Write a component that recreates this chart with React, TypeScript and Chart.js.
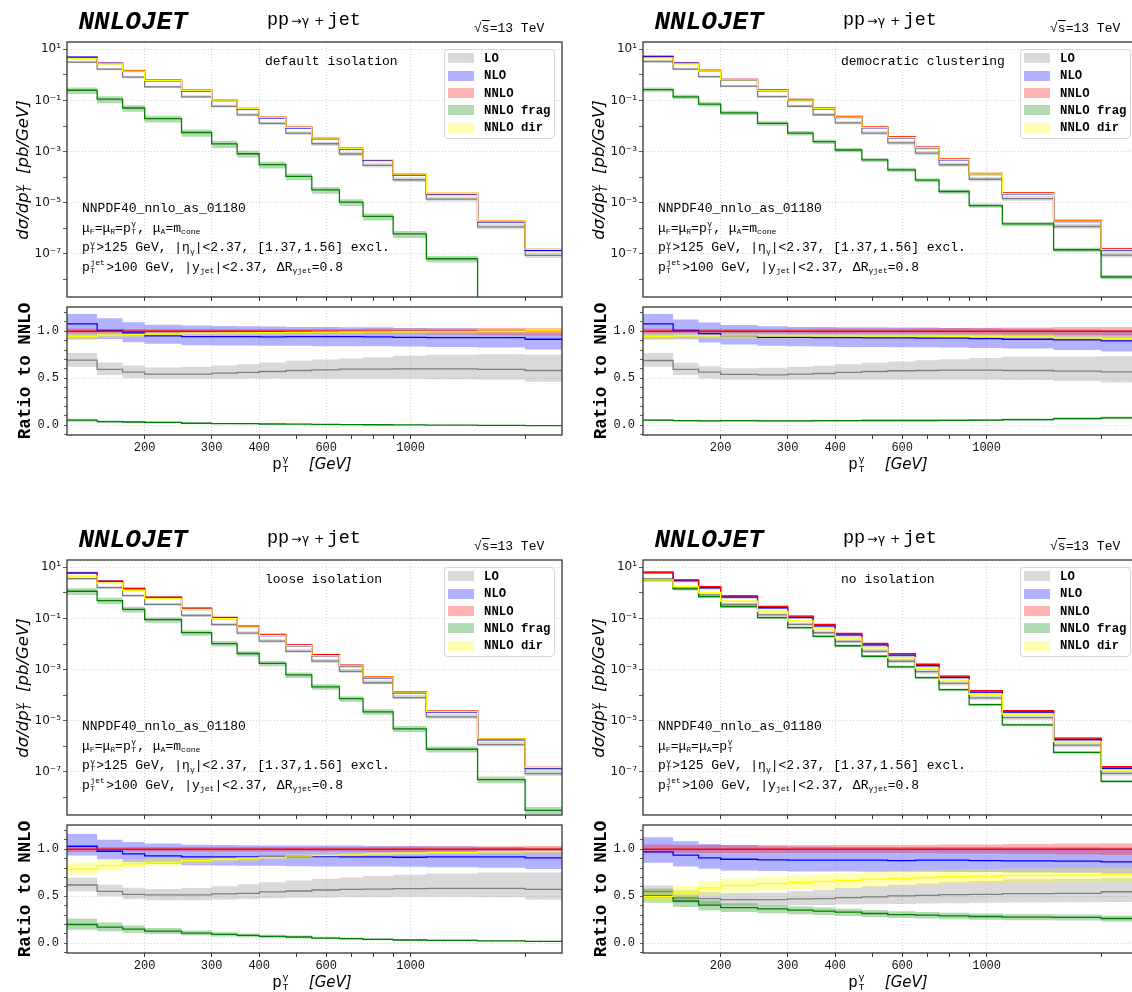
import React, { useEffect, useRef } from 'react';
import { Chart, registerables } from 'chart.js';
Chart.register(...registerables);

// ---------------- data ----------------
const BIN_EDGES = [125, 150, 175, 200, 250, 300, 350, 400, 470, 550, 650, 750, 900, 1100, 1500, 2000, 2500];
const X_TICKS = [200, 300, 400, 500, 600, 700, 800, 900, 1000, 2000];
const X_TICK_LABELS = [200, 300, 400, 600, 1000];
const Y_MAIN_TICKS = [1e-8, 1e-7, 1e-6, 1e-5, 1e-4, 1e-3, 1e-2, 1e-1, 1, 10];
const Y_MAIN_LABEL_EXP = [-7, -5, -3, -1, 1];
const Y_RATIO_TICKS = [-0.1, 0.0, 0.1, 0.2, 0.3, 0.4, 0.5, 0.6, 0.7, 0.8, 0.9, 1.0, 1.1, 1.2];
const Y_RATIO_LABELS = [0.0, 0.5, 1.0];
const NNLO_REF = [1, 1, 1, 1, 1, 1, 1, 1, 1, 1, 1, 1, 1, 1, 1, 1];

// default isolation (top-left)
const TL_NNLO = [4.56, 2.8, 1.45, 0.625, 0.254, 0.106, 0.0485, 0.0221, 0.00897, 0.00343, 0.00135, 4.85e-4, 1.32e-4, 2.3e-5, 1.9e-6, 1.5e-7];
const TL_NNLO_UP = [1.03, 1.025, 1.025, 1.025, 1.025, 1.025, 1.025, 1.025, 1.025, 1.025, 1.025, 1.03, 1.03, 1.03, 1.035, 1.035];
const TL_NNLO_DN = [0.97, 0.975, 0.975, 0.975, 0.975, 0.975, 0.975, 0.975, 0.975, 0.975, 0.975, 0.97, 0.97, 0.965, 0.96, 0.955];
const TL_LO = [0.693, 0.594, 0.565, 0.544, 0.544, 0.555, 0.562, 0.572, 0.583, 0.59, 0.597, 0.597, 0.6, 0.6, 0.594, 0.583];
const TL_LO_UP = [0.77, 0.668, 0.636, 0.615, 0.622, 0.636, 0.65, 0.668, 0.686, 0.7, 0.71, 0.724, 0.739, 0.749, 0.756, 0.749];
const TL_LO_DN = [0.622, 0.534, 0.502, 0.495, 0.495, 0.495, 0.498, 0.498, 0.495, 0.495, 0.495, 0.495, 0.495, 0.491, 0.488, 0.463];
const TL_NLO = [1.078, 1.01, 0.982, 0.951, 0.943, 0.943, 0.943, 0.94, 0.943, 0.943, 0.943, 0.94, 0.936, 0.933, 0.933, 0.915];
const TL_NLO_UP = [1.184, 1.138, 1.095, 1.07, 1.06, 1.057, 1.053, 1.05, 1.046, 1.046, 1.042, 1.042, 1.035, 1.032, 1.025, 1.01];
const TL_NLO_DN = [0.912, 0.919, 0.883, 0.866, 0.852, 0.848, 0.848, 0.845, 0.845, 0.841, 0.841, 0.841, 0.837, 0.834, 0.827, 0.806];
const TL_FRAG = [0.055, 0.04, 0.035, 0.031, 0.022, 0.019, 0.017, 0.014, 0.012, 0.0093, 0.0078, 0.006, 0.0046, 0.0028, 0.0, -0.003];
const TL_FRAG_UP = [0.071, 0.052, 0.045, 0.04, 0.029, 0.025, 0.022, 0.018, 0.0156, 0.012, 0.0101, 0.0078, 0.006, 0.0036, 0.0, -0.001];
const TL_FRAG_DN = [0.039, 0.028, 0.025, 0.022, 0.015, 0.013, 0.012, 0.0098, 0.0084, 0.0065, 0.0055, 0.0042, 0.0032, 0.002, -0.002, -0.005];
const TL_DIR = [0.945, 0.96, 0.965, 0.969, 0.978, 0.981, 0.983, 0.986, 0.988, 0.991, 0.992, 0.994, 0.995, 0.997, 1.0, 1.003];
const TL_DIR_UP = [0.985, 0.99, 0.993, 0.995, 1.0, 1.003, 1.005, 1.008, 1.01, 1.013, 1.014, 1.017, 1.018, 1.02, 1.025, 1.03];
const TL_DIR_DN = [0.905, 0.93, 0.94, 0.945, 0.955, 0.958, 0.96, 0.963, 0.965, 0.968, 0.969, 0.97, 0.971, 0.972, 0.973, 0.974];

// democratic clustering (top-right)
const TR_NNLO = [4.85, 2.83, 1.5, 0.667, 0.262, 0.109, 0.05, 0.0236, 0.0093, 0.0038, 0.00149, 5.2e-4, 1.41e-4, 2.47e-5, 2.04e-6, 1.58e-7];
const TR_NNLO_UP = [1.03, 1.025, 1.025, 1.025, 1.025, 1.028, 1.03, 1.03, 1.03, 1.03, 1.032, 1.035, 1.038, 1.04, 1.045, 1.045];
const TR_NNLO_DN = [0.97, 0.975, 0.975, 0.975, 0.975, 0.972, 0.97, 0.97, 0.97, 0.97, 0.968, 0.965, 0.962, 0.96, 0.955, 0.955];
const TR_LO = [0.689, 0.594, 0.565, 0.541, 0.537, 0.544, 0.551, 0.562, 0.572, 0.58, 0.583, 0.587, 0.587, 0.583, 0.576, 0.569];
const TR_LO_UP = [0.77, 0.664, 0.629, 0.608, 0.611, 0.622, 0.633, 0.65, 0.664, 0.678, 0.692, 0.703, 0.717, 0.728, 0.731, 0.735];
const TR_LO_DN = [0.622, 0.534, 0.498, 0.488, 0.488, 0.488, 0.488, 0.488, 0.488, 0.488, 0.488, 0.488, 0.486, 0.481, 0.47, 0.456];
const TR_NLO = [1.078, 1.01, 0.975, 0.95, 0.936, 0.936, 0.933, 0.933, 0.929, 0.929, 0.926, 0.926, 0.922, 0.915, 0.908, 0.897];
const TR_NLO_UP = [1.184, 1.124, 1.092, 1.067, 1.053, 1.046, 1.046, 1.042, 1.042, 1.039, 1.039, 1.035, 1.032, 1.028, 1.018, 1.01];
const TR_NLO_DN = [0.912, 0.915, 0.88, 0.859, 0.845, 0.841, 0.838, 0.834, 0.834, 0.83, 0.83, 0.827, 0.823, 0.816, 0.8, 0.784];
const TR_FRAG = [0.055, 0.049, 0.048, 0.049, 0.048, 0.048, 0.049, 0.049, 0.051, 0.051, 0.051, 0.053, 0.055, 0.06, 0.071, 0.079];
const TR_FRAG_UP = [0.066, 0.059, 0.058, 0.059, 0.058, 0.058, 0.059, 0.059, 0.061, 0.061, 0.061, 0.064, 0.066, 0.072, 0.085, 0.095];
const TR_FRAG_DN = [0.045, 0.04, 0.039, 0.04, 0.039, 0.039, 0.04, 0.04, 0.042, 0.042, 0.042, 0.043, 0.045, 0.049, 0.058, 0.065];
const TR_DIR = [0.945, 0.951, 0.952, 0.951, 0.952, 0.952, 0.951, 0.951, 0.949, 0.949, 0.949, 0.947, 0.945, 0.94, 0.929, 0.921];
const TR_DIR_UP = [0.985, 0.982, 0.98, 0.978, 0.978, 0.978, 0.977, 0.977, 0.976, 0.976, 0.976, 0.975, 0.974, 0.97, 0.962, 0.956];
const TR_DIR_DN = [0.905, 0.92, 0.924, 0.924, 0.926, 0.926, 0.925, 0.925, 0.922, 0.922, 0.921, 0.919, 0.916, 0.91, 0.896, 0.886];

// loose isolation (bottom-left)
const BL_NNLO = [5.8, 2.9, 1.5, 0.687, 0.254, 0.11, 0.05, 0.0236, 0.0093, 0.0038, 0.00149, 5.3e-4, 1.38e-4, 2.4e-5, 2.0e-6, 1.5e-7];
const BL_NNLO_UP = [1.03, 1.025, 1.025, 1.025, 1.025, 1.025, 1.025, 1.025, 1.025, 1.025, 1.025, 1.028, 1.03, 1.03, 1.032, 1.035];
const BL_NNLO_DN = [0.97, 0.975, 0.975, 0.975, 0.975, 0.975, 0.975, 0.975, 0.975, 0.975, 0.975, 0.972, 0.97, 0.97, 0.968, 0.965];
const BL_LO = [0.62, 0.553, 0.521, 0.514, 0.514, 0.525, 0.532, 0.546, 0.556, 0.567, 0.574, 0.577, 0.581, 0.585, 0.585, 0.574];
const BL_LO_UP = [0.697, 0.623, 0.592, 0.577, 0.588, 0.606, 0.627, 0.648, 0.669, 0.687, 0.701, 0.715, 0.729, 0.743, 0.754, 0.754];
const BL_LO_DN = [0.553, 0.5, 0.472, 0.458, 0.458, 0.465, 0.472, 0.479, 0.486, 0.486, 0.493, 0.493, 0.496, 0.496, 0.489, 0.465];
const BL_NLO = [1.032, 0.979, 0.951, 0.93, 0.919, 0.919, 0.919, 0.923, 0.923, 0.923, 0.919, 0.919, 0.915, 0.919, 0.919, 0.908];
const BL_NLO_UP = [1.162, 1.102, 1.077, 1.06, 1.049, 1.046, 1.042, 1.039, 1.039, 1.039, 1.039, 1.035, 1.035, 1.032, 1.025, 1.018];
const BL_NLO_DN = [0.933, 0.894, 0.863, 0.845, 0.831, 0.827, 0.824, 0.824, 0.82, 0.817, 0.817, 0.817, 0.813, 0.81, 0.803, 0.789];
const BL_FRAG = [0.2, 0.173, 0.151, 0.13, 0.109, 0.095, 0.085, 0.074, 0.067, 0.056, 0.049, 0.042, 0.035, 0.032, 0.025, 0.021];
const BL_FRAG_UP = [0.26, 0.222, 0.19, 0.163, 0.136, 0.118, 0.105, 0.092, 0.083, 0.07, 0.061, 0.053, 0.045, 0.041, 0.033, 0.028];
const BL_FRAG_DN = [0.143, 0.128, 0.113, 0.098, 0.083, 0.073, 0.065, 0.057, 0.051, 0.043, 0.037, 0.032, 0.026, 0.024, 0.018, 0.015];
const BL_DIR = [0.789, 0.827, 0.845, 0.863, 0.88, 0.894, 0.905, 0.915, 0.926, 0.933, 0.94, 0.951, 0.958, 0.965, 0.972, 0.975];
const BL_DIR_UP = [0.86, 0.885, 0.895, 0.905, 0.915, 0.925, 0.932, 0.94, 0.948, 0.953, 0.958, 0.967, 0.972, 0.978, 0.985, 0.99];
const BL_DIR_DN = [0.73, 0.775, 0.8, 0.822, 0.845, 0.862, 0.877, 0.89, 0.903, 0.912, 0.92, 0.932, 0.942, 0.95, 0.958, 0.96];

// no isolation (bottom-right)
const BR_NNLO = [6.4, 3.2, 1.75, 0.77, 0.295, 0.124, 0.058, 0.0258, 0.0105, 0.0042, 0.00162, 5.6e-4, 1.5e-4, 2.5e-5, 2.1e-6, 1.6e-7];
const BR_NNLO_UP = [1.05, 1.045, 1.045, 1.045, 1.045, 1.045, 1.045, 1.045, 1.045, 1.045, 1.048, 1.05, 1.05, 1.055, 1.06, 1.065];
const BR_NNLO_DN = [0.955, 0.96, 0.96, 0.96, 0.96, 0.96, 0.96, 0.96, 0.96, 0.96, 0.958, 0.955, 0.955, 0.95, 0.945, 0.94];
const BR_LO = [0.55, 0.482, 0.475, 0.465, 0.465, 0.472, 0.475, 0.486, 0.493, 0.504, 0.51, 0.518, 0.521, 0.528, 0.532, 0.548];
const BR_LO_UP = [0.616, 0.563, 0.546, 0.535, 0.538, 0.553, 0.57, 0.588, 0.606, 0.62, 0.637, 0.651, 0.662, 0.68, 0.687, 0.694];
const BR_LO_DN = [0.486, 0.43, 0.412, 0.401, 0.401, 0.405, 0.408, 0.412, 0.415, 0.419, 0.423, 0.426, 0.43, 0.433, 0.437, 0.44];
const BR_NLO = [0.972, 0.937, 0.908, 0.894, 0.887, 0.884, 0.884, 0.884, 0.884, 0.88, 0.884, 0.884, 0.88, 0.877, 0.873, 0.866];
const BR_NLO_UP = [1.127, 1.085, 1.056, 1.042, 1.032, 1.028, 1.028, 1.025, 1.025, 1.025, 1.025, 1.025, 1.025, 1.021, 1.021, 1.018];
const BR_NLO_DN = [0.856, 0.817, 0.792, 0.775, 0.768, 0.764, 0.764, 0.764, 0.761, 0.761, 0.761, 0.757, 0.757, 0.754, 0.75, 0.739];
const BR_FRAG = [0.507, 0.45, 0.405, 0.38, 0.366, 0.352, 0.342, 0.331, 0.317, 0.306, 0.3, 0.292, 0.285, 0.278, 0.275, 0.264];
const BR_FRAG_UP = [0.58, 0.51, 0.455, 0.425, 0.408, 0.392, 0.38, 0.368, 0.353, 0.341, 0.334, 0.325, 0.318, 0.31, 0.307, 0.295];
const BR_FRAG_DN = [0.43, 0.385, 0.35, 0.332, 0.32, 0.308, 0.3, 0.29, 0.278, 0.268, 0.263, 0.256, 0.25, 0.245, 0.242, 0.233];
const BR_DIR = [0.5, 0.545, 0.59, 0.615, 0.634, 0.648, 0.658, 0.669, 0.683, 0.694, 0.7, 0.708, 0.715, 0.722, 0.725, 0.736];
const BR_DIR_UP = [0.56, 0.61, 0.66, 0.69, 0.71, 0.725, 0.737, 0.75, 0.762, 0.772, 0.778, 0.785, 0.79, 0.795, 0.8, 0.805];
const BR_DIR_DN = [0.44, 0.48, 0.52, 0.54, 0.56, 0.572, 0.58, 0.59, 0.603, 0.615, 0.622, 0.63, 0.638, 0.645, 0.65, 0.66];

// ---------------- styles ----------------
const MONO = '"Liberation Mono", "DejaVu Sans Mono", monospace';
const SANS = '"DejaVu Sans", sans-serif';
const GRID = 'rgba(0,0,0,0.22)';
const SERIES_STYLE = [
  { name: 'LO', line: '#808080', fill: 'rgba(128,128,128,0.3)' },
  { name: 'NLO', line: '#0000ff', fill: 'rgba(0,0,255,0.3)' },
  { name: 'NNLO', line: '#ff0000', fill: 'rgba(255,0,0,0.3)' },
  { name: 'NNLO frag', line: '#008000', fill: 'rgba(0,128,0,0.3)' },
  { name: 'NNLO dir', line: '#ffff00', fill: 'rgba(255,255,0,0.3)' },
];

type Band = { c: number[]; up: number[]; dn: number[] };
type PanelDef = { col: number; row: number; label: string; noIso: boolean; nnlo: number[]; series: Band[] };

const PANELS: PanelDef[] = [
  {
    col: 0, row: 0, label: 'default isolation', noIso: false, nnlo: TL_NNLO,
    series: [
      { c: TL_LO, up: TL_LO_UP, dn: TL_LO_DN },
      { c: TL_NLO, up: TL_NLO_UP, dn: TL_NLO_DN },
      { c: NNLO_REF, up: TL_NNLO_UP, dn: TL_NNLO_DN },
      { c: TL_FRAG, up: TL_FRAG_UP, dn: TL_FRAG_DN },
      { c: TL_DIR, up: TL_DIR_UP, dn: TL_DIR_DN },
    ],
  },
  {
    col: 1, row: 0, label: 'democratic clustering', noIso: false, nnlo: TR_NNLO,
    series: [
      { c: TR_LO, up: TR_LO_UP, dn: TR_LO_DN },
      { c: TR_NLO, up: TR_NLO_UP, dn: TR_NLO_DN },
      { c: NNLO_REF, up: TR_NNLO_UP, dn: TR_NNLO_DN },
      { c: TR_FRAG, up: TR_FRAG_UP, dn: TR_FRAG_DN },
      { c: TR_DIR, up: TR_DIR_UP, dn: TR_DIR_DN },
    ],
  },
  {
    col: 0, row: 1, label: 'loose isolation', noIso: false, nnlo: BL_NNLO,
    series: [
      { c: BL_LO, up: BL_LO_UP, dn: BL_LO_DN },
      { c: BL_NLO, up: BL_NLO_UP, dn: BL_NLO_DN },
      { c: NNLO_REF, up: BL_NNLO_UP, dn: BL_NNLO_DN },
      { c: BL_FRAG, up: BL_FRAG_UP, dn: BL_FRAG_DN },
      { c: BL_DIR, up: BL_DIR_UP, dn: BL_DIR_DN },
    ],
  },
  {
    col: 1, row: 1, label: 'no isolation', noIso: true, nnlo: BR_NNLO,
    series: [
      { c: BR_LO, up: BR_LO_UP, dn: BR_LO_DN },
      { c: BR_NLO, up: BR_NLO_UP, dn: BR_NLO_DN },
      { c: NNLO_REF, up: BR_NNLO_UP, dn: BR_NNLO_DN },
      { c: BR_FRAG, up: BR_FRAG_UP, dn: BR_FRAG_DN },
      { c: BR_DIR, up: BR_DIR_UP, dn: BR_DIR_DN },
    ],
  },
];

// ---------------- chart helpers ----------------
const SUP: Record<string, string> = { '-': '⁻', '0': '⁰', '1': '¹', '2': '²', '3': '³', '4': '⁴', '5': '⁵', '6': '⁶', '7': '⁷', '8': '⁸', '9': '⁹' };

function stepPoints(vals: number[], main: boolean, nnlo: number[]) {
  const ys = vals.map((v, i) => {
    const y = main ? v * nnlo[i] : v;
    return main && !(y > 0) ? 1e-12 : y;
  });
  const pts = ys.map((y, i) => ({ x: BIN_EDGES[i], y }));
  pts.push({ x: BIN_EDGES[BIN_EDGES.length - 1], y: ys[ys.length - 1] });
  return pts;
}

function buildDatasets(p: PanelDef, main: boolean) {
  const ds: any[] = [];
  p.series.forEach((s, k) => {
    const st = SERIES_STYLE[k];
    ds.push({ data: stepPoints(s.up, main, p.nnlo), borderWidth: 0, borderColor: 'rgba(0,0,0,0)', backgroundColor: 'rgba(0,0,0,0)', pointRadius: 0, fill: false, stepped: true, order: 40 - k });
    ds.push({ data: stepPoints(s.dn, main, p.nnlo), borderWidth: 0, borderColor: 'rgba(0,0,0,0)', backgroundColor: st.fill, pointRadius: 0, fill: '-1', stepped: true, order: 40 - k });
  });
  p.series.forEach((s, k) => {
    ds.push({ data: stepPoints(s.c, main, p.nnlo), borderColor: SERIES_STYLE[k].line, backgroundColor: SERIES_STYLE[k].line, borderWidth: 1.3, pointRadius: 0, fill: false, stepped: true, order: 20 - k });
  });
  return ds;
}

const framePlugin = {
  id: 'frame',
  afterDatasetsDraw(chart: any) {
    const { ctx, chartArea } = chart;
    const { left, top, right, bottom } = chartArea;
    ctx.save();
    ctx.strokeStyle = '#333';
    ctx.lineWidth = 1.3;
    ctx.strokeRect(left, top, right - left, bottom - top);
    ctx.restore();
  },
};

function xScale(showLabels: boolean) {
  return {
    type: 'logarithmic',
    min: 125,
    max: 2500,
    afterBuildTicks: (s: any) => { s.ticks = X_TICKS.map((v) => ({ value: v })); },
    afterFit: (s: any) => { s.height = showLabels ? 20 : 4; s.paddingLeft = 0; s.paddingRight = 0; },
    ticks: {
      display: showLabels,
      autoSkip: false,
      maxRotation: 0,
      minRotation: 0,
      padding: 2,
      color: '#111',
      font: { family: MONO, size: 12 },
      callback: (_v: any, i: number, ticks: any[]) => {
        const val = ticks[i].value;
        return X_TICK_LABELS.includes(val) ? String(val) : '';
      },
    },
    grid: {
      color: (ctx: any) => (ctx.tick && X_TICK_LABELS.includes(ctx.tick.value) ? GRID : 'rgba(0,0,0,0)'),
      tickColor: '#333',
      tickLength: 4,
      lineWidth: 0.8,
      tickWidth: 1,
    },
    border: { display: false, dash: [1, 2] },
  };
}

function commonOptions(padding: any, scales: any) {
  return {
    animation: false,
    responsive: false,
    maintainAspectRatio: false,
    events: [],
    layout: { padding },
    plugins: { legend: { display: false }, tooltip: { enabled: false }, colors: { enabled: false } },
    elements: { line: { tension: 0 }, point: { radius: 0 } },
    scales,
  };
}

function mainConfig(p: PanelDef): any {
  return {
    type: 'line',
    data: { datasets: buildDatasets(p, true) },
    options: commonOptions({ left: 0, right: 4, top: 42, bottom: 4 }, {
      x: xScale(false),
      y: {
        type: 'logarithmic',
        min: 2.06e-9,
        max: 19.3,
        afterBuildTicks: (s: any) => { s.ticks = Y_MAIN_TICKS.map((v) => ({ value: v })); },
        afterFit: (s: any) => { s.width = 67; s.paddingTop = 0; s.paddingBottom = 0; },
        ticks: {
          autoSkip: false,
          padding: 2,
          color: '#111',
          font: { family: SANS, size: 12 },
          callback: (_v: any, i: number, ticks: any[]) => {
            const e = Math.round(Math.log10(ticks[i].value));
            if (!Y_MAIN_LABEL_EXP.includes(e)) return '';
            return '10' + String(e).split('').map((ch) => SUP[ch]).join('');
          },
        },
        grid: {
          color: (ctx: any) => {
            if (!ctx.tick) return 'rgba(0,0,0,0)';
            const e = Math.round(Math.log10(ctx.tick.value));
            return Y_MAIN_LABEL_EXP.includes(e) ? GRID : 'rgba(0,0,0,0)';
          },
          tickColor: '#333',
          tickLength: 4,
          lineWidth: 0.8,
        },
        border: { display: false, dash: [1, 2] },
      },
    }),
    plugins: [framePlugin],
  };
}

function ratioConfig(p: PanelDef): any {
  const isMajor = (v: number) => Y_RATIO_LABELS.some((l) => Math.abs(l - v) < 1e-6);
  return {
    type: 'line',
    data: { datasets: buildDatasets(p, false) },
    options: commonOptions({ left: 0, right: 4, top: 7, bottom: 25 }, {
      x: xScale(true),
      y: {
        type: 'linear',
        min: -0.103,
        max: 1.258,
        afterBuildTicks: (s: any) => { s.ticks = Y_RATIO_TICKS.map((v) => ({ value: v })); },
        afterFit: (s: any) => { s.width = 67; s.paddingTop = 0; s.paddingBottom = 0; },
        ticks: {
          autoSkip: false,
          padding: 5,
          color: '#111',
          font: { family: MONO, size: 12 },
          callback: (_v: any, i: number, ticks: any[]) => {
            const val = ticks[i].value;
            return isMajor(val) ? val.toFixed(1) : '';
          },
        },
        grid: {
          color: (ctx: any) => (ctx.tick && isMajor(ctx.tick.value) ? GRID : 'rgba(0,0,0,0)'),
          tickColor: '#333',
          tickLength: 3,
          lineWidth: 0.8,
        },
        border: { display: false, dash: [1, 2] },
      },
    }),
    plugins: [framePlugin],
  };
}

// ---------------- text helpers ----------------
function SS({ sup, sub, fs }: { sup: string; sub: string; fs: number }) {
  const s = fs * 0.62;
  const w = Math.max(sup.length, sub.length) * s * 0.62 + 1.5;
  const h = fs * 0.7;
  return (
    <span style={{ position: 'relative', display: 'inline-block', width: w, height: h, verticalAlign: 'baseline' }}>
      <span style={{ position: 'absolute', left: 0.5, top: h - fs * 0.4 - s * 0.77, fontSize: s, lineHeight: 1, whiteSpace: 'nowrap' }}>{sup}</span>
      <span style={{ position: 'absolute', left: 0.5, top: h + fs * 0.2 - s * 0.77, fontSize: s, lineHeight: 1, whiteSpace: 'nowrap' }}>{sub}</span>
    </span>
  );
}
function Sub({ children, fs }: { children: any; fs: number }) {
  return <span style={{ fontSize: fs * 0.62, position: 'relative', top: fs * 0.2 }}>{children}</span>;
}

function T({ x, base, fs, family = MONO, style = {}, children }: any) {
  const asc = family === SANS ? 0.846 : 0.767;
  return (
    <div style={{ position: 'absolute', left: x, top: base - asc * fs, fontFamily: family, fontSize: fs, lineHeight: 1, whiteSpace: 'nowrap', color: '#000', ...style }}>
      {children}
    </div>
  );
}

function Legend() {
  const rows = [58.3, 75.6, 93, 110.3, 127.7];
  return (
    <div>
      <div style={{ position: 'absolute', left: 444, top: 48.5, width: 111, height: 90, border: '1px solid #d6d6d6', borderRadius: 4, background: 'rgba(255,255,255,0.8)', boxSizing: 'border-box' }} />
      {SERIES_STYLE.map((s, k) => (
        <React.Fragment key={s.name}>
          <div style={{ position: 'absolute', left: 448, top: rows[k] - 5, width: 26, height: 10, background: s.fill }} />
          <T x={484} base={rows[k] + 4.2} fs={12.3} style={{ fontWeight: 'bold' }}>{s.name}</T>
        </React.Fragment>
      ))}
    </div>
  );
}

function Panel({ p }: { p: PanelDef }) {
  const mainRef = useRef<HTMLCanvasElement>(null);
  const ratioRef = useRef<HTMLCanvasElement>(null);
  useEffect(() => {
    const c1 = new Chart(mainRef.current as HTMLCanvasElement, mainConfig(p));
    const c2 = new Chart(ratioRef.current as HTMLCanvasElement, ratioConfig(p));
    return () => { c1.destroy(); c2.destroy(); };
  }, []);
  const ox = p.col * 576;
  const oy = p.row * 518;
  const afs = 13;
  return (
    <div style={{ position: 'absolute', left: ox, top: oy, width: 566, height: 490 }}>
      <canvas ref={mainRef} width={566} height={305} style={{ position: 'absolute', left: 0, top: 0 }} />
      <canvas ref={ratioRef} width={566} height={180} style={{ position: 'absolute', left: 0, top: 300 }} />

      {/* header */}
      <T x={78.5} base={29.3} fs={26} style={{ fontWeight: 'bold', fontStyle: 'italic' }}>NNLOJET</T>
      <T x={267} base={26} fs={18.5}>
        pp<span style={{ fontFamily: SANS, fontSize: 12.5, margin: '0 2px' }}>→γ</span>
        <span style={{ fontFamily: SANS, fontSize: 12.5, margin: '0 3px' }}>+</span>jet
      </T>
      <T x={474} base={31.7} fs={13}>
        √<span style={{ textDecoration: 'overline' }}>s</span>=13 TeV
      </T>

      {/* in-plot text */}
      <T x={265} base={65} fs={13}>{p.label}</T>
      <T x={82} base={212} fs={afs}>NNPDF40_nnlo_as_01180</T>
      {p.noIso ? (
        <T x={82} base={231.5} fs={afs}>
          μ<Sub fs={afs}>F</Sub>=μ<Sub fs={afs}>R</Sub>=μ<Sub fs={afs}>A</Sub>=p<SS sup="γ" sub="T" fs={afs} />
        </T>
      ) : (
        <T x={82} base={231.5} fs={afs}>
          μ<Sub fs={afs}>F</Sub>=μ<Sub fs={afs}>R</Sub>=p<SS sup="γ" sub="T" fs={afs} />, μ<Sub fs={afs}>A</Sub>=m<Sub fs={afs}>cone</Sub>
        </T>
      )}
      <T x={82} base={251} fs={afs}>
        p<SS sup="γ" sub="T" fs={afs} />&gt;125 GeV, |η<Sub fs={afs}>γ</Sub>|&lt;2.37, [1.37,1.56] excl.
      </T>
      <T x={82} base={270.5} fs={afs}>
        p<SS sup="jet" sub="T" fs={afs} />&gt;100 GeV, |y<Sub fs={afs}>jet</Sub>|&lt;2.37, ΔR<Sub fs={afs}>γjet</Sub>=0.8
      </T>

      <Legend />

      {/* axis titles */}
      <div style={{ position: 'absolute', left: 22.5, top: 169.5, transform: 'translate(-50%,-50%) rotate(-90deg)', whiteSpace: 'nowrap', fontFamily: SANS, fontStyle: 'italic', fontSize: 16.5, lineHeight: 1, color: '#000' }}>
        dσ/dp<SS sup="γ" sub="T" fs={16.5} />&nbsp;&nbsp;[pb/GeV]
      </div>
      <div style={{ position: 'absolute', left: 26, top: 371, transform: 'translate(-50%,-50%) rotate(-90deg)', whiteSpace: 'nowrap', fontFamily: MONO, fontWeight: 'bold', fontSize: 17.5, lineHeight: 1, color: '#000' }}>
        Ratio to NNLO
      </div>
      <div style={{ position: 'absolute', left: 312, top: 469.5 - 0.767 * 16, transform: 'translateX(-50%)', whiteSpace: 'nowrap', fontFamily: MONO, fontSize: 16, lineHeight: 1, color: '#000' }}>
        p<SS sup="γ" sub="T" fs={16} />&nbsp;&nbsp;<span style={{ fontFamily: SANS, fontStyle: 'italic', fontSize: 15 }}>[GeV]</span>
      </div>
    </div>
  );
}

export default function App() {
  return (
    <div style={{ position: 'absolute', left: 0, top: 0, width: 1132, height: 992, overflow: 'hidden', background: '#fff' }}>
      {PANELS.map((p) => (
        <Panel key={p.label} p={p} />
      ))}
    </div>
  );
}
